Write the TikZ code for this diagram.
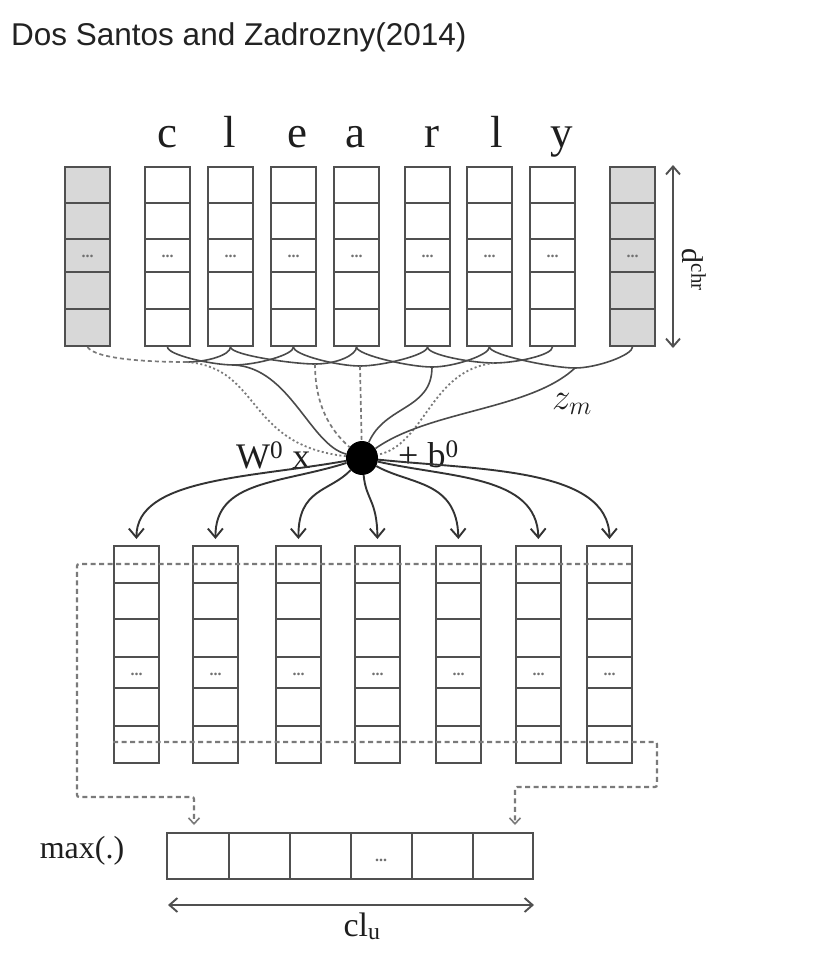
\documentclass[tikz,border=0pt]{standalone}
\usepackage{fontspec}
\setmainfont{Liberation Serif}
\newfontfamily\titlefont{Liberation Sans}
\usetikzlibrary{arrows.meta,calc,shapes.geometric}
\definecolor{boxc}{HTML}{505050}
\definecolor{padc}{HTML}{D8D8D8}
\definecolor{wirec}{HTML}{4A4A4A}
\definecolor{arrc}{HTML}{333333}
\definecolor{dashc}{HTML}{7A7A7A}
\definecolor{titlec}{HTML}{222222}
\definecolor{textc}{HTML}{1E1E1E}
\definecolor{ellc}{HTML}{707070}
\begin{document}
\begin{tikzpicture}[x=1pt,y=-1pt,
  colbox/.style={draw=boxc, line width=2pt, inner sep=0pt, minimum width=45pt, anchor=north west},
  rowln/.style={draw=boxc, line width=1.6pt},
  ell/.style={font=\bfseries\fontsize{16}{16}\selectfont, text=ellc, inner sep=0pt},
  chr/.style={font=\fontsize{45}{50}\selectfont, anchor=base, inner sep=0pt, text=textc},
  lbl/.style={font=\fontsize{36}{40}\selectfont, inner sep=0pt, text=textc},
  wire/.style={draw=wirec, line width=1.6pt},
  dotw/.style={draw=dashc, line width=1.8pt, dash pattern=on 2pt off 2.5pt},
  dashw/.style={draw=dashc, line width=1.7pt, dash pattern=on 4pt off 3pt},
  arr/.style={draw=arrc, line width=1.9pt, -{Straight Barb[length=9pt,width=15pt,line width=1.9pt]}, shorten >=6pt},
  dline/.style={draw=dashc, line width=2.2pt, dash pattern=on 5pt off 3.5pt, rounded corners=2pt},
  dim/.style={draw=boxc, line width=1.9pt, {Straight Barb[length=8pt,width=14pt,line width=1.9pt]}-{Straight Barb[length=8pt,width=14pt,line width=1.9pt]}}
]
\fill[white] (0,0) rectangle (824,970);
\useasboundingbox (0,0) rectangle (824,970);

\node[anchor=base west, font=\titlefont\fontsize{31.5}{36}\selectfont, text=titlec, inner sep=0pt] (title) at (11,45) {Dos Santos and Zadrozny(2014)};

% top character columns
\foreach \n/\l/\f in {p0/64/padc, t1/144/white, t2/207/white, t3/270/white, t4/333/white, t5/404/white, t6/466/white, t7/529/white, p8/609/padc}{
  \node[colbox, fill=\f, minimum height=179pt] (\n) at (\l,166) {};
  \foreach \d in {37,73,106,143}
    \draw[rowln] ($(\n.north west)+(0,\d)$) -- ($(\n.north east)+(0,\d)$);
  \node[ell] (\n e) at ($(\n.north)+(0,90)$) {...};
}

% letters
\foreach \n/\x/\c in {L1/167/c, L2/230/l, L3/297/e, L4/355/a, L5/432/r, L6/497/l, L7/562/y}
  \node[chr] (\n) at (\x,147) {\c};

% d^chr dimension
\coordinate (dt) at (673,165);
\coordinate (db) at (673,348);
\draw[dim] (dt) -- (db);
\node[font=\fontsize{30}{34}\selectfont, rotate=-90, inner sep=0pt, text=textc] (dchr) at (694,270) {d\textsuperscript{chr}};

% window points
\coordinate (w1) at (187,362);
\coordinate (w2) at (234,365);
\coordinate (w3) at (315,364);
\coordinate (w4) at (360,366);
\coordinate (w5) at (432,367);
\coordinate (w6) at (494,363);
\coordinate (w7) at (575,368);

% braid
\draw[dashw] (p0.south) .. controls +(8,12) and +(-40,0) .. (w1);
\draw[wire] (t2.south) .. controls +(0,8) and +(20,0) .. (w1);
\foreach \a/\w/\b in {t1/w2/t3, t2/w3/t4, t3/w4/t5, t4/w5/t6, t5/w6/t7, t6/w7/p8}{
  \draw[wire] (\a.south) .. controls +(0,8) and +(-22,0) .. (\w);
  \draw[wire] (\b.south) .. controls +(0,8) and +(22,0) .. (\w);
}

% central dot
\node[ellipse, fill=black, minimum width=32pt, minimum height=34pt, inner sep=0pt] (dot) at (362,458) {};

% lines to dot
\draw[dotw] (w1) .. controls (262,368) and (245,445) .. (dot);
\draw[wire] (w2) .. controls (290,368) and (310,445) .. (dot);
\draw[dashw] (w3) .. controls (315,405) and (330,430) .. (dot);
\draw[dashw] (w4) -- (dot);
\draw[wire] (w5) .. controls (432,410) and (385,405) .. (dot);
\draw[dotw] (w6) .. controls (430,370) and (425,445) .. (dot);
\draw[wire] (w7) .. controls (530,410) and (430,410) .. (dot);

\node[lbl, anchor=base west] (wx) at (236,468) {W\textsuperscript{0} x};
\node[lbl, anchor=base west] (bb) at (398,467) {+ b\textsuperscript{0}};
\node[font=\fontsize{24}{28}\selectfont, scale=1.5, inner sep=0pt, text=textc] (zm) at (572,404) {$z_m$};

% bottom feature columns
\foreach \n/\l in {b1/113, b2/192, b3/275, b4/354, b5/435, b6/515, b7/586}{
  \node[colbox, fill=white, minimum height=217pt] (\n) at (\l,545) {};
  \foreach \d in {38,74,112,143,181}
    \draw[rowln] ($(\n.north west)+(0,\d)$) -- ($(\n.north east)+(0,\d)$);
  \node[ell] (\n e) at ($(\n.north)+(0,129)$) {...};
}

% arrows from dot
\draw[arr] (dot) .. controls (250,478) and (136,478) .. (b1.north);
\draw[arr] (dot) .. controls (280,484) and (215,480) .. (b2.north);
\draw[arr] (dot) .. controls (330,492) and (298,488) .. (b3.north);
\draw[arr] (dot) .. controls (366,500) and (377,500) .. (b4.north);
\draw[arr] (dot) .. controls (410,485) and (457,480) .. (b5.north);
\draw[arr] (dot) .. controls (450,478) and (537,475) .. (b6.north);
\draw[arr] (dot) .. controls (480,470) and (609,468) .. (b7.north);

% max pooling box
\node[draw=boxc, line width=2pt, minimum width=366pt, minimum height=46pt, anchor=north west, inner sep=0pt] (mx) at (166,832) {};
\foreach \d in {63,124,185,246,307}
  \draw[rowln] ($(mx.north west)+(\d,0)$) -- ($(mx.south west)+(\d,0)$);
\node[ell] (mxe) at ($(mx.north west)+(215,28)$) {...};
\node[font=\fontsize{32}{36}\selectfont, anchor=base, inner sep=0pt, text=textc] (maxl) at (82,858) {max(.)};

% dashed selection paths
\coordinate (dA) at (631,564);
\coordinate (la) at (194,825);
\coordinate (dB) at (113,742);
\coordinate (ra) at (515,825);
\draw[dline, -{Straight Barb[length=6pt,width=11pt,line width=1.6pt]}] (dA) -- (77,564) -- (77,797) -- (194,797) -- (la);
\draw[dline, -{Straight Barb[length=6pt,width=11pt,line width=1.6pt]}] (dB) -- (657,742) -- (657,787) -- (515,787) -- (ra);

% cl_u dimension
\draw[dim] ($(mx.south west)+(2,25)$) -- ($(mx.south east)+(0,25)$);
\node[font=\fontsize{34}{38}\selectfont, anchor=base, inner sep=0pt, text=textc] (clu) at (362,936) {cl\textsubscript{u}};
\end{tikzpicture}
\end{document}
